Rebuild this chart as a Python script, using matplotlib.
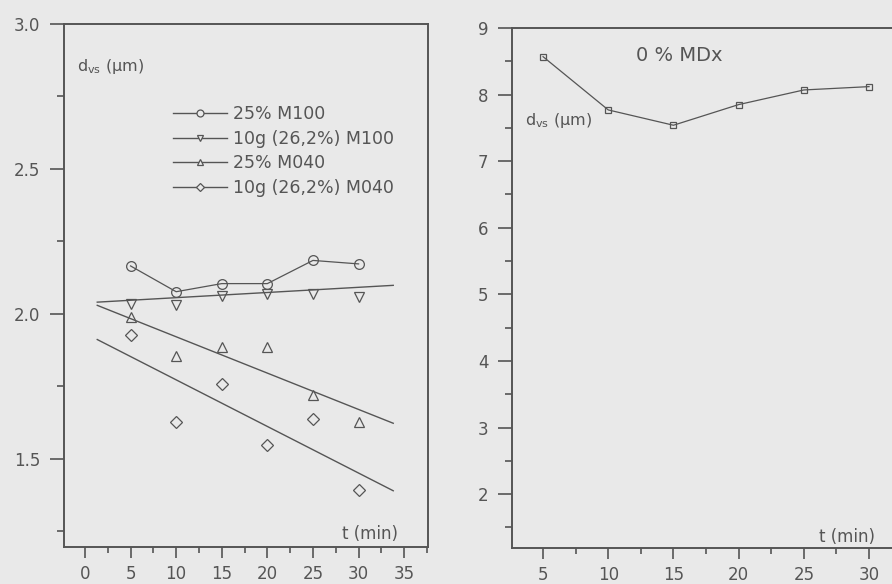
import numpy as np
import matplotlib
matplotlib.use("Agg")
import matplotlib.pyplot as plt
from matplotlib.lines import Line2D
from matplotlib.ticker import MultipleLocator, FormatStrFormatter

plt.rcParams['font.family'] = ['DejaVu Sans']
plt.rcParams['mathtext.default'] = 'regular'

BG = '#e9e9e9'
INK = '#555555'

# sampling times (min)
t = [5, 10, 15, 20, 25, 30]

# d_vs (um) for the four maltodextrin runs
m100_25 = [2.165, 2.076, 2.104, 2.104, 2.184, 2.172]
m100_10g = [2.032, 2.031, 2.061, 2.069, 2.069, 2.059]
m040_25 = [1.988, 1.853, 1.885, 1.885, 1.721, 1.628]
m040_10g = [1.925, 1.628, 1.758, 1.546, 1.636, 1.393]

# straight trend lines, start/end points
fit_t = [1.35, 33.8]
fit_m100_10g = [2.040, 2.098]
fit_m040_25 = [2.029, 1.622]
fit_m040_10g = [1.911, 1.389]

# 0 % MDx run
mdx0 = [8.57, 7.77, 7.54, 7.85, 8.07, 8.12]

labels = ['25% M100', '10g (26,2%) M100', '25% M040', '10g (26,2%) M040']

fig = plt.figure(figsize=(8.92, 5.84), dpi=100, facecolor=BG)


def style_axes(ax):
    ax.set_facecolor(BG)
    for s in ax.spines.values():
        s.set_color(INK)
        s.set_linewidth(1.4)
    ax.tick_params(axis='both', which='both', direction='out', colors=INK,
                   labelsize=12, width=1.2)
    ax.tick_params(axis='y', which='major', length=10, pad=7)
    ax.tick_params(axis='y', which='minor', length=5)
    ax.tick_params(axis='x', which='major', length=8, pad=5)
    ax.tick_params(axis='x', which='minor', length=4.5)


# left panel
ax1 = fig.add_axes([0.0717, 0.0634, 0.408, 0.8955])
style_axes(ax1)
mk = dict(markerfacecolor='none', markeredgecolor=INK, markeredgewidth=0.9,
          markersize=7, color=INK)
ax1.plot(t, m100_25, '-o', lw=0.9, **mk)
ax1.plot(t, m100_10g, 'v', linestyle='none', **mk)
ax1.plot(t, m040_25, '^', linestyle='none', **mk)
ax1.plot(t, m040_10g, 'D', linestyle='none', **dict(mk, markersize=6))
ax1.plot(fit_t, fit_m100_10g, color=INK, lw=1.0)
ax1.plot(fit_t, fit_m040_25, color=INK, lw=1.0)
ax1.plot(fit_t, fit_m040_10g, color=INK, lw=1.0)

ax1.set_xlim(-2.3, 37.6)
ax1.set_ylim(1.195, 3.0)
ax1.xaxis.set_major_locator(MultipleLocator(5))
ax1.xaxis.set_minor_locator(MultipleLocator(2.5))
ax1.yaxis.set_major_locator(MultipleLocator(0.5))
ax1.yaxis.set_minor_locator(MultipleLocator(0.25))
ax1.yaxis.set_major_formatter(FormatStrFormatter('%.1f'))

ax1.text(0.036, 0.918, r'd$_{vs}$ (µm)', transform=ax1.transAxes,
         fontsize=11.5, color=INK, va='center', ha='left')
ax1.text(0.918, 0.025, 't (min)', transform=ax1.transAxes,
         fontsize=12, color=INK, va='center', ha='right')

lk = dict(color=INK, lw=1.0, markerfacecolor=BG, markeredgecolor=INK,
          markeredgewidth=0.9, markersize=5)
handles = [Line2D([], [], marker='o', **lk),
           Line2D([], [], marker='v', **lk),
           Line2D([], [], marker='^', **lk),
           Line2D([], [], marker='D', **dict(lk, markersize=4.5))]
leg = ax1.legend(handles, labels, loc='upper left',
                 bbox_to_anchor=(0.30, 0.845), frameon=False, fontsize=12.5,
                 handlelength=3.1, handletextpad=0.33, labelspacing=0.38,
                 borderpad=0, borderaxespad=0)
for txt in leg.get_texts():
    txt.set_color(INK)

# right panel
ax2 = fig.add_axes([0.574, 0.0616, 0.426, 0.8904])
style_axes(ax2)
ax2.spines['right'].set_visible(False)
ax2.plot(t, mdx0, '-s', lw=0.9, color=INK, markerfacecolor='none',
         markeredgecolor=INK, markeredgewidth=0.9, markersize=5)
ax2.set_xlim(2.62, 31.76)
ax2.set_ylim(1.19, 9.0)
ax2.xaxis.set_major_locator(MultipleLocator(5))
ax2.xaxis.set_minor_locator(MultipleLocator(2.5))
ax2.yaxis.set_major_locator(MultipleLocator(1))
ax2.yaxis.set_minor_locator(MultipleLocator(0.5))

ax2.text(0.44, 0.948, '0 % MDx', transform=ax2.transAxes,
         fontsize=14, color=INK, va='center', ha='center')
ax2.text(0.035, 0.823, r'd$_{vs}$ (µm)', transform=ax2.transAxes,
         fontsize=11.5, color=INK, va='center', ha='left')
ax2.text(0.955, 0.021, 't (min)', transform=ax2.transAxes,
         fontsize=12, color=INK, va='center', ha='right')

fig.savefig('out.png', dpi=100, facecolor=BG)
